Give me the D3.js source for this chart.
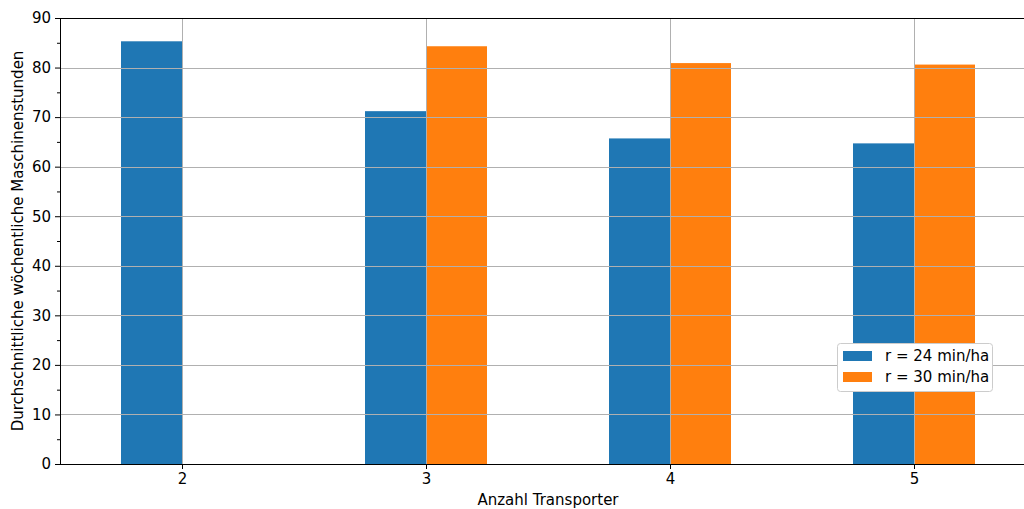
<!DOCTYPE html>
<html><head><meta charset="utf-8">
<script src="https://cdn.jsdelivr.net/npm/d3@7"></script>
<style>body{margin:0;background:#fff}svg{display:block;font-family:"DejaVu Sans",sans-serif}</style>
</head><body><svg id="c" width="1024" height="509"></svg>
<script>
const categories = [2, 3, 4, 5];
const series24 = [85.3, 71.2, 65.7, 64.7];
const series30 = [null, 84.3, 80.9, 80.6];
const seriesNames = ["r = 24 min/ha", "r = 30 min/ha"];
const colors = ["#1f77b4", "#ff7f0e"];
const yTicks = [0, 10, 20, 30, 40, 50, 60, 70, 80, 90];
const yMinor = [5, 15, 25, 35, 45, 55, 65, 75, 85];
const xLabel = "Anzahl Transporter";
const yLabel = "Durchschnittliche wöchentliche Maschinenstunden";

const FS = 15;
const svg = d3.select("#c");
const L = 60, T = 18, B = 464;
const x = d3.scaleLinear().domain([1.5, 5.5]).range([L, L + 976]);
const y = d3.scaleLinear().domain([0, 90]).range([B, T]);
const bw = 0.25;

const series = [series24, series30];
series.forEach((vals, si) => {
  svg.append("g").selectAll("rect").data(categories.map((c, i) => ({c, v: vals[i]})).filter(d => d.v != null))
    .enter().append("rect")
    .attr("x", d => si === 0 ? x(d.c - bw) : x(d.c))
    .attr("width", x(bw) - x(0))
    .attr("y", d => y(d.v))
    .attr("height", d => y(0) - y(d.v))
    .attr("fill", colors[si]);
});

// grid
const grid = svg.append("g").attr("stroke", "#b0b0b0").attr("stroke-width", 1);
yTicks.forEach(t => grid.append("line").attr("x1", L).attr("x2", 1024).attr("y1", Math.round(y(t)) + 0.5).attr("y2", Math.round(y(t)) + 0.5));
categories.forEach(c => grid.append("line").attr("x1", Math.round(x(c)) + 0.5).attr("x2", Math.round(x(c)) + 0.5).attr("y1", T).attr("y2", B));

// axes
const yAxis = svg.append("g").attr("transform", `translate(${L},0)`)
  .call(d3.axisLeft(y).tickValues(yTicks).tickSize(5).tickPadding(4).tickFormat(d3.format("d")));
svg.append("g").attr("transform", `translate(${L},0)`)
  .call(d3.axisLeft(y).tickValues(yMinor).tickSize(3).tickFormat(""))
  .call(g => g.select(".domain").remove());
const xAxis = svg.append("g").attr("transform", `translate(0,${B})`)
  .call(d3.axisBottom(x).tickValues(categories).tickSize(5).tickPadding(4).tickFormat(d3.format("d")));
[yAxis, xAxis].forEach(g => {
  g.attr("font-size", FS).attr("font-family", "DejaVu Sans");
  g.selectAll("text").attr("fill", "#000");
  g.selectAll("line").attr("stroke", "#000");
});
svg.selectAll(".domain").remove();
// spines
svg.append("line").attr("x1", L + 0.5).attr("x2", L + 0.5).attr("y1", T).attr("y2", B).attr("stroke", "#000");
svg.append("line").attr("x1", L).attr("x2", 1024).attr("y1", B + 0.5).attr("y2", B + 0.5).attr("stroke", "#000");
svg.append("line").attr("x1", L).attr("x2", 1024).attr("y1", T + 0.5).attr("y2", T + 0.5).attr("stroke", "#000");

// labels
svg.append("text").attr("x", 548).attr("y", 505).attr("text-anchor", "middle")
  .attr("font-size", FS).text(xLabel);
svg.append("text").attr("transform", `translate(23,${(T + B) / 2}) rotate(-90)`).attr("text-anchor", "middle")
  .attr("font-size", FS).text(yLabel);

// legend
const lg = svg.append("g").attr("transform", "translate(837,343)");
lg.append("rect").attr("x", 0.5).attr("y", 0.5).attr("width", 155).attr("height", 48).attr("rx", 3)
  .attr("fill", "#fff").attr("stroke", "#ccc");
seriesNames.forEach((n, i) => {
  lg.append("rect").attr("x", 6).attr("y", 8 + i * 21).attr("width", 29).attr("height", 10).attr("fill", colors[i]);
  lg.append("text").attr("x", 48).attr("y", 18 + i * 21).attr("font-size", FS).text(n);
});
</script></body></html>
